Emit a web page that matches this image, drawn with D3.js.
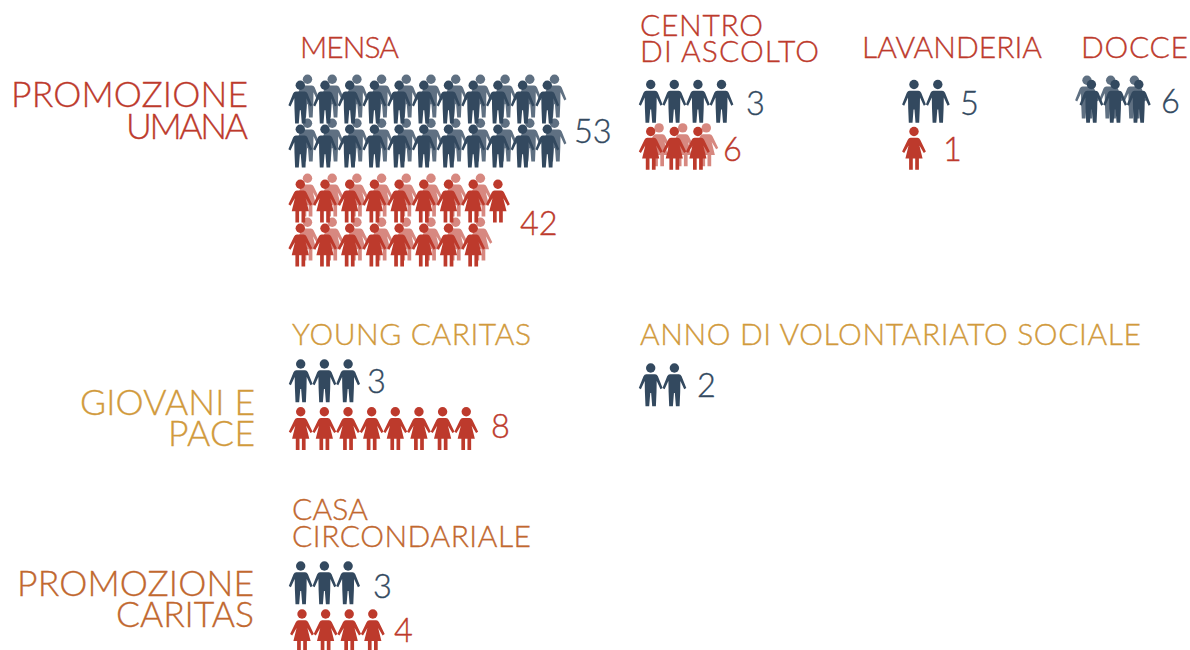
<!DOCTYPE html>
<html><head><meta charset="utf-8">
<script src="https://cdn.jsdelivr.net/npm/d3@7/dist/d3.min.js"></script>
<style>html,body{margin:0;background:#fff}svg{display:block}text{font-family:Lato,"Open Sans",sans-serif;font-weight:300}</style>
</head><body><div id="c"></div>
<script>
// ---- data ----
const programmes   = ["MENSA","CENTRO DI ASCOLTO","LAVANDERIA","DOCCE","YOUNG CARITAS","ANNO DI VOLONTARIATO SOCIALE","CASA CIRCONDARIALE"];
const menValues    = [53,3,5,6,3,2,3];
const womenValues  = [42,6,1,null,8,null,4];
const menRows      = [[11,11],[4],[2],[3],[3],[2],[3]];
const menEchoRows  = [[11,11],[0],[0],[3],[0],[0],[0]];
const womenRows    = [[9,8],[3],[1],[],[8],[],[4]];
const womenEchoRows= [[8,8],[3],[0],[],[0],[],[0]];

// ---- layout ----
const W=1190,H=650;
const navy="#33495f",red="#bd3a2c",orange="#c1682f",gold="#d19a3c";
const manPath="M-4.4,6.3H4.4Q6.2,6.3 7.2,8.3L11.9,20L9.8,21.2L6,13L5.8,24L5.2,38.3H1.5L0.45,25H-0.45L-1.5,38.3H-5.2L-5.8,24L-6,13L-9.8,21.2L-11.9,20L-7.2,8.3Q-6.2,6.3 -4.4,6.3Z";
const womanPath="M-3.4,6.3H3.4Q5.2,6.3 6.2,8.3L11.9,20L9.8,21.4L5.4,14L8.6,27H4.9V38.3H1.2V27H-1.2V38.3H-4.9V27H-8.6L-5.4,14L-9.8,21.4L-11.9,20L-6.2,8.3Q-5.2,6.3 -3.4,6.3Z";
// x0, spacing, head y of each row, echo dx, echo dy, number position
const menLayout=[
 {x:300.3,s:24.7,y:[85.3,129.3],dx:7.2,dy:-6,n:[574,143]},
 {x:650.7,s:23.6,y:[84.5],dx:0,dy:0,n:[746,115]},
 {x:914,s:23.8,y:[84.5],dx:0,dy:0,n:[960,115]},
 {x:1091.4,s:23.7,y:[84.5],dx:-4.4,dy:-4.2,n:[1161,113]},
 {x:300.7,s:23.7,y:[364],dx:0,dy:0,n:[367,393]},
 {x:650.7,s:23.7,y:[368],dx:0,dy:0,n:[697,397]},
 {x:300.7,s:23.7,y:[566],dx:0,dy:0,n:[373,598]}];
const womenLayout=[
 {x:300.3,s:24.7,y:[184.3,228.3],dx:7.2,dy:-6,n:[520,235]},
 {x:650.7,s:23.6,y:[131.5],dx:8.4,dy:-3.6,n:[723,161]},
 {x:914,s:23.8,y:[131.5],dx:0,dy:0,n:[943,161]},null,
 {x:300.7,s:23.65,y:[411.7],dx:0,dy:0,n:[491,438]},null,
 {x:302,s:23.6,y:[614],dx:0,dy:0,n:[394,642]}];
// text, left, right, baseline, size, colour
const titles=[
 ["PROMOZIONE",11,248,107,35.5,red],["UMANA",126,248,139,35.5,red],
 ["GIOVANI E",80,255,415,35.5,gold],["PACE",168,255,446,35.5,gold],
 ["PROMOZIONE",17,254,596,35.5,orange],["CARITAS",116,254,627,35.5,orange],
 ["MENSA",300,399,58,30,red],["CENTRO",640,763,36,30,red],["DI ASCOLTO",640,819,62,30,red],
 ["LAVANDERIA",862,1042,58,30,red],["DOCCE",1081,1188,58,30,red],
 ["YOUNG CARITAS",292,531,345,30,gold],["ANNO DI VOLONTARIATO SOCIALE",640,1141,345,30,gold],
 ["CASA",292,368,520,30,orange],["CIRCONDARIALE",292,531,547,30,orange]];

const svg=d3.select("#c").append("svg").attr("width",W).attr("height",H).attr("viewBox",[0,0,W,H]);

function icons(rows,layouts,path,color,opacity,echo){
  rows.forEach((rowset,p)=>{
    const L=layouts[p]; if(!L) return;
    const x=d3.scaleLinear().domain([0,1]).range([L.x,L.x+L.s]);
    rowset.forEach((count,r)=>{
      const g=svg.append("g").attr("fill",color).attr("opacity",opacity);
      const cells=g.selectAll("g").data(d3.range(count)).join("g")
        .attr("transform",i=>`translate(${x(i)+(echo?L.dx:0)},${L.y[r]+(echo?L.dy:0)})`);
      cells.append("circle").attr("r",4.7);
      cells.append("path").attr("d",path);
    });
  });
}
icons(menEchoRows,menLayout,manPath,navy,0.78,true);
icons(womenEchoRows,womenLayout,womanPath,red,0.6,true);
icons(menRows,menLayout,manPath,navy,1,false);
icons(womenRows,womenLayout,womanPath,red,1,false);

svg.append("g").selectAll("text").data(titles).join("text")
  .attr("x",d=>d[1]).attr("y",d=>d[3]).attr("font-size",d=>d[4]).attr("fill",d=>d[5])
  .attr("stroke",d=>d[5]).attr("stroke-width",0.35)
  .attr("textLength",d=>d[2]-d[1]).attr("lengthAdjust","spacing").text(d=>d[0]);

function numbers(values,layouts,color){
  svg.append("g").selectAll("text").data(values.map((v,i)=>({v,L:layouts[i]})).filter(d=>d.v!=null)).join("text")
    .attr("x",d=>d.L.n[0]).attr("y",d=>d.L.n[1]).attr("font-size",32.5).attr("fill",color)
    .attr("stroke",color).attr("stroke-width",0.35).text(d=>d.v);
}
numbers(menValues,menLayout,navy);
numbers(womenValues,womenLayout,red);
</script></body></html>
